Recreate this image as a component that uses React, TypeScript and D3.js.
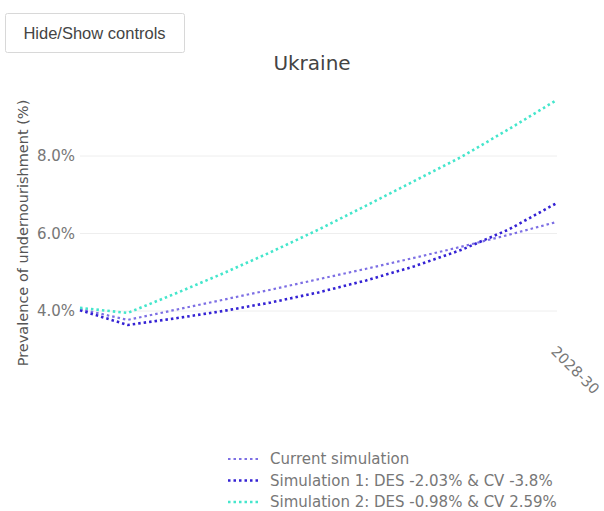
import React, { useEffect, useRef } from 'react';
import * as d3 from 'd3';

const periods = ['2018-20', '2019-21', '2020-22', '2021-23', '2022-24', '2023-25', '2024-26', '2025-27', '2026-28', '2027-29', '2028-30'];
const shownTicks = ['2028-30'];
const currentSim = [4.05, 3.77, 4.03, 4.29, 4.55, 4.82, 5.09, 5.37, 5.66, 5.97, 6.3];
const sim1 = [4.02, 3.64, 3.81, 4.0, 4.22, 4.48, 4.79, 5.15, 5.58, 6.11, 6.79];
const sim2 = [4.08, 3.95, 4.45, 4.97, 5.52, 6.1, 6.72, 7.35, 7.98, 8.7, 9.45];
const yTicks = [4, 6, 8];

const seriesList = [
    { name: 'Current simulation', values: currentSim, color: '#7d6fe4', width: 2.2 },
    { name: 'Simulation 1: DES -2.03% & CV -3.8%', values: sim1, color: '#3422d4', width: 2.6 },
    { name: 'Simulation 2: DES -0.98% & CV 2.59%', values: sim2, color: '#45e6cc', width: 2.6 },
];

const App: React.FC = () => {
    const svgRef = useRef<SVGSVGElement>(null);
    const width = 604;
    const height = 511;

    useEffect(() => {
        if (!svgRef.current) return;
        const svg = d3.select(svgRef.current);
        svg.selectAll('*').remove();

        const font = '"DejaVu Sans", verdana, sans-serif';

        const x = d3.scalePoint<string>().domain(periods).range([80, 557]);
        const y = d3.scaleLinear().domain([4, 8]).range([311, 156]);

        // gridlines
        svg.append('g')
            .selectAll('line')
            .data(yTicks)
            .join('line')
            .attr('x1', 80)
            .attr('x2', 557)
            .attr('y1', d => y(d))
            .attr('y2', d => y(d))
            .attr('stroke', '#eeeeee')
            .attr('stroke-width', 1);

        const yAxis = svg.append('g')
            .attr('transform', 'translate(77,0)')
            .call(d3.axisLeft(y).tickValues(yTicks).tickSize(0).tickPadding(2).tickFormat(d => `${(+d).toFixed(1)}%`));
        yAxis.select('.domain').remove();
        yAxis.selectAll('text')
            .attr('font-family', font)
            .attr('font-size', 15)
            .attr('fill', '#777');

        const xAxis = svg.append('g')
            .attr('transform', 'translate(0,345)')
            .call(d3.axisBottom(x).tickValues(shownTicks).tickSize(0).tickPadding(0));
        xAxis.select('.domain').remove();
        xAxis.selectAll('text')
            .attr('font-family', font)
            .attr('font-size', 14.5)
            .attr('fill', '#777')
            .attr('text-anchor', 'start')
            .attr('dy', '0.7em')
            .attr('transform', 'rotate(45)');

        const line = d3.line<number>()
            .x((d, i) => x(periods[i]) ?? 0)
            .y(d => y(d));

        seriesList.forEach(s => {
            svg.append('path')
                .datum(s.values)
                .attr('fill', 'none')
                .attr('stroke', s.color)
                .attr('stroke-width', s.width)
                .attr('stroke-dasharray', '2.5,3')
                .attr('d', line);
        });

        // title
        svg.append('text')
            .attr('x', 312)
            .attr('y', 70)
            .attr('text-anchor', 'middle')
            .attr('font-family', font)
            .attr('font-size', 20)
            .attr('fill', '#444')
            .text('Ukraine');

        svg.append('text')
            .attr('transform', 'translate(28,233) rotate(-90)')
            .attr('text-anchor', 'middle')
            .attr('font-family', font)
            .attr('font-size', 14.5)
            .attr('fill', '#555')
            .text('Prevalence of undernourishment (%)');

        // legend
        const legend = svg.append('g').attr('transform', 'translate(228,459)');
        seriesList.forEach((s, i) => {
            const g = legend.append('g').attr('transform', `translate(0,${i * 21.5})`);
            g.append('line')
                .attr('x1', 0)
                .attr('x2', 32)
                .attr('y1', 0)
                .attr('y2', 0)
                .attr('stroke', s.color)
                .attr('stroke-width', s.width)
                .attr('stroke-dasharray', '2.5,3');
            g.append('text')
                .attr('x', 42)
                .attr('y', 0)
                .attr('dy', '0.35em')
                .attr('font-family', font)
                .attr('font-size', 15)
                .attr('fill', '#777')
                .text(s.name);
        });

        // button
        const btn = svg.append('g').attr('transform', 'translate(5.5,13.5)');
        btn.append('rect')
            .attr('width', 179)
            .attr('height', 39)
            .attr('fill', '#fff')
            .attr('stroke', '#d8d8d8')
            .attr('rx', 2);
        btn.append('text')
            .attr('x', 89)
            .attr('y', 20)
            .attr('dy', '0.35em')
            .attr('text-anchor', 'middle')
            .attr('font-family', 'Arial, "Liberation Sans", sans-serif')
            .attr('font-size', 16.5)
            .attr('fill', '#444')
            .text('Hide/Show controls');
    }, []);

    return (
        <svg ref={svgRef} width={width} height={height} style={{ position: 'absolute', left: 0, top: 0 }}></svg>
    );
};

export default App;
